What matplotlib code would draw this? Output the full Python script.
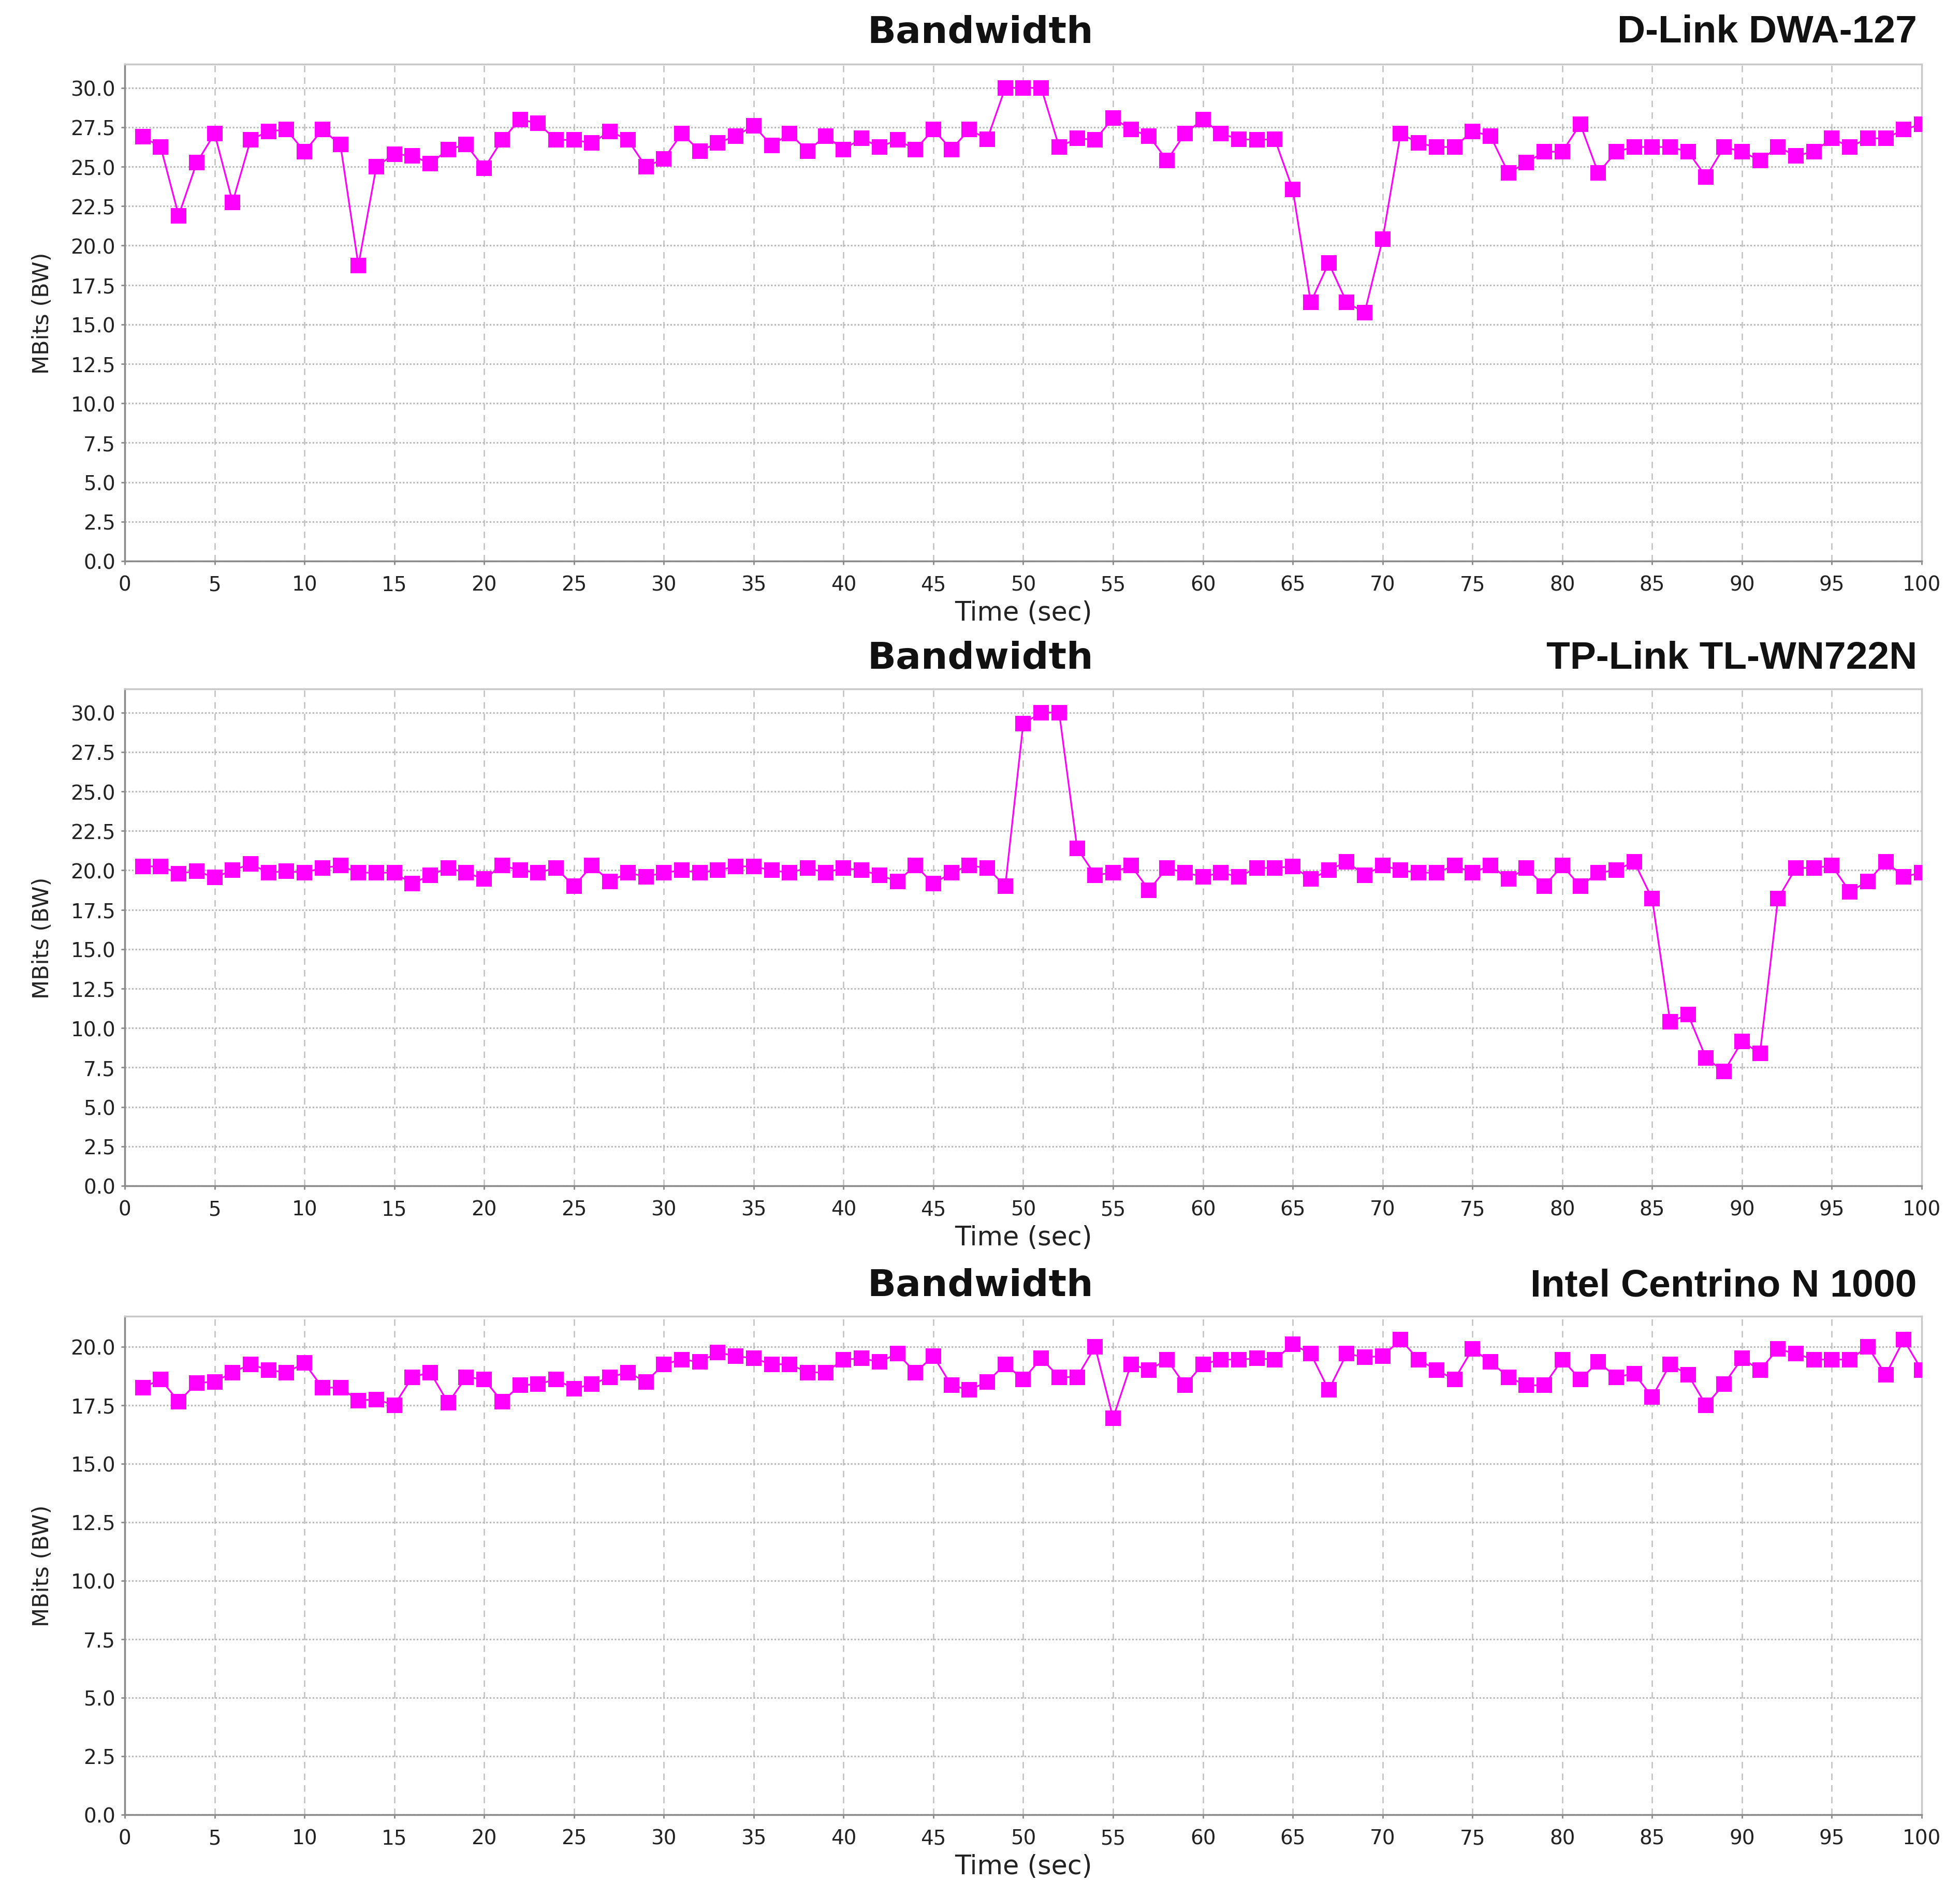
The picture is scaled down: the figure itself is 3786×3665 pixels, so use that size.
import numpy as np
import matplotlib
matplotlib.use("Agg")
import matplotlib.pyplot as plt
from matplotlib.ticker import MultipleLocator, FormatStrFormatter

# bandwidth per second (MBits) for each adapter, t = 1..100 s
seconds = list(range(1, 101))

dlink = [26.9, 26.25, 21.9, 25.25, 27.1, 22.75, 26.7, 27.25, 27.35, 25.95,
         27.35, 26.4, 18.75, 25.0, 25.8, 25.7, 25.2, 26.1, 26.4, 24.9,
         26.7, 28.0, 27.75, 26.7, 26.7, 26.5, 27.25, 26.7, 25.0, 25.5,
         27.1, 26.0, 26.5, 26.95, 27.6, 26.35, 27.1, 26.0, 26.95, 26.1,
         26.8, 26.25, 26.7, 26.1, 27.35, 26.1, 27.35, 26.75, 30.0, 30.0,
         30.0, 26.25, 26.8, 26.7, 28.1, 27.35, 26.95, 25.4, 27.1, 28.0,
         27.1, 26.75, 26.7, 26.75, 23.55, 16.4, 18.9, 16.4, 15.75, 20.4,
         27.1, 26.5, 26.25, 26.25, 27.25, 26.95, 24.6, 25.25, 25.95, 25.95,
         27.7, 24.6, 25.95, 26.25, 26.25, 26.25, 25.95, 24.35, 26.25, 25.95,
         25.4, 26.25, 25.7, 25.95, 26.8, 26.25, 26.8, 26.8, 27.35, 27.7]

tplink = [20.25, 20.25, 19.8, 19.95, 19.55, 20.0, 20.4, 19.85, 19.95, 19.85,
          20.15, 20.3, 19.85, 19.85, 19.85, 19.15, 19.7, 20.15, 19.85, 19.45,
          20.3, 20.0, 19.85, 20.15, 19.0, 20.3, 19.3, 19.85, 19.6, 19.85,
          20.0, 19.85, 20.0, 20.25, 20.25, 20.0, 19.85, 20.15, 19.85, 20.15,
          20.0, 19.7, 19.3, 20.3, 19.15, 19.85, 20.3, 20.15, 19.0, 29.3,
          30.0, 30.0, 21.4, 19.7, 19.85, 20.3, 18.75, 20.15, 19.85, 19.6,
          19.85, 19.6, 20.15, 20.15, 20.25, 19.45, 20.0, 20.55, 19.7, 20.3,
          20.0, 19.85, 19.85, 20.3, 19.85, 20.3, 19.45, 20.15, 19.0, 20.3,
          19.0, 19.85, 20.0, 20.55, 18.2, 10.4, 10.85, 8.1, 7.25, 9.15,
          8.4, 18.2, 20.15, 20.15, 20.3, 18.65, 19.3, 20.55, 19.6, 19.85]

intel = [18.25, 18.6, 17.65, 18.45, 18.5, 18.9, 19.25, 19.0, 18.9, 19.3,
         18.25, 18.25, 17.7, 17.75, 17.5, 18.7, 18.9, 17.6, 18.7, 18.6,
         17.65, 18.35, 18.4, 18.6, 18.2, 18.4, 18.7, 18.9, 18.5, 19.25,
         19.45, 19.35, 19.75, 19.6, 19.5, 19.25, 19.25, 18.9, 18.9, 19.45,
         19.5, 19.35, 19.7, 18.9, 19.6, 18.35, 18.15, 18.5, 19.25, 18.6,
         19.5, 18.7, 18.7, 20.0, 16.95, 19.25, 19.0, 19.45, 18.35, 19.25,
         19.45, 19.45, 19.5, 19.45, 20.1, 19.7, 18.15, 19.7, 19.55, 19.6,
         20.3, 19.45, 19.0, 18.6, 19.9, 19.35, 18.7, 18.35, 18.35, 19.45,
         18.6, 19.35, 18.7, 18.85, 17.85, 19.25, 18.8, 17.5, 18.4, 19.5,
         19.0, 19.9, 19.7, 19.45, 19.45, 19.45, 20.0, 18.8, 20.3, 19.0]

devices = ["D-Link DWA-127", "TP-Link TL-WN722N", "Intel Centrino N 1000"]
series = [dlink, tplink, intel]
ymax = [31.5, 31.5, 21.3]

W, H = 3787, 3666
fig = plt.figure(figsize=(W / 100, H / 100), dpi=100)

# axes boxes in pixels (top, bottom) and matching title heights
left, right = 241, 3712
boxes = [(125, 1085), (1332, 2292), (2544, 3507)]
title_y = [63, 1273, 2485]

for i in range(3):
    top, bottom = boxes[i]
    ax = fig.add_axes([left / W, 1 - bottom / H, (right - left) / W, (bottom - top) / H])
    ax.plot(seconds, series[i], color="#ff00ff", lw=2.3, marker="s",
            markersize=21, markeredgewidth=0, zorder=3)

    ax.set_xlim(0, 100)
    ax.set_ylim(0, ymax[i])
    ax.xaxis.set_major_locator(MultipleLocator(5))
    ax.yaxis.set_major_locator(MultipleLocator(2.5))
    ax.yaxis.set_major_formatter(FormatStrFormatter("%.1f"))

    ax.grid(axis="x", color="#c0c0c0", lw=1.8, ls=(0, (5, 4)))
    ax.grid(axis="y", color="#bababa", lw=2.3, ls=(0, (1, 1.1)))
    ax.set_axisbelow(True)

    for side in ["top", "right"]:
        ax.spines[side].set_color("#c8c8c8")
        ax.spines[side].set_linewidth(2.5)
    for side in ["left", "bottom"]:
        ax.spines[side].set_color("#8a8a8a")
        ax.spines[side].set_linewidth(2.5)

    ax.tick_params(labelsize=28, colors="#222222", length=5, width=2)
    ax.tick_params(color="#8a8a8a")
    ax.tick_params(axis="x", pad=14)
    ax.tick_params(axis="y", pad=8)
    ax.set_xlabel("Time (sec)", fontsize=36.5, color="#222222", labelpad=8)
    ax.set_ylabel("MBits (BW)", fontsize=31, color="#222222", labelpad=24)

    fig.text(0.5, 1 - title_y[i] / H, "Bandwidth", ha="center", va="center",
             fontsize=52, fontweight="bold", color="#111111")
    fig.text(3703 / W, 1 - title_y[i] / H, devices[i], ha="right", va="center",
             fontsize=54, fontweight="bold", color="#111111",
             family="Liberation Sans")

fig.savefig("out.png", dpi=100, facecolor="white")
